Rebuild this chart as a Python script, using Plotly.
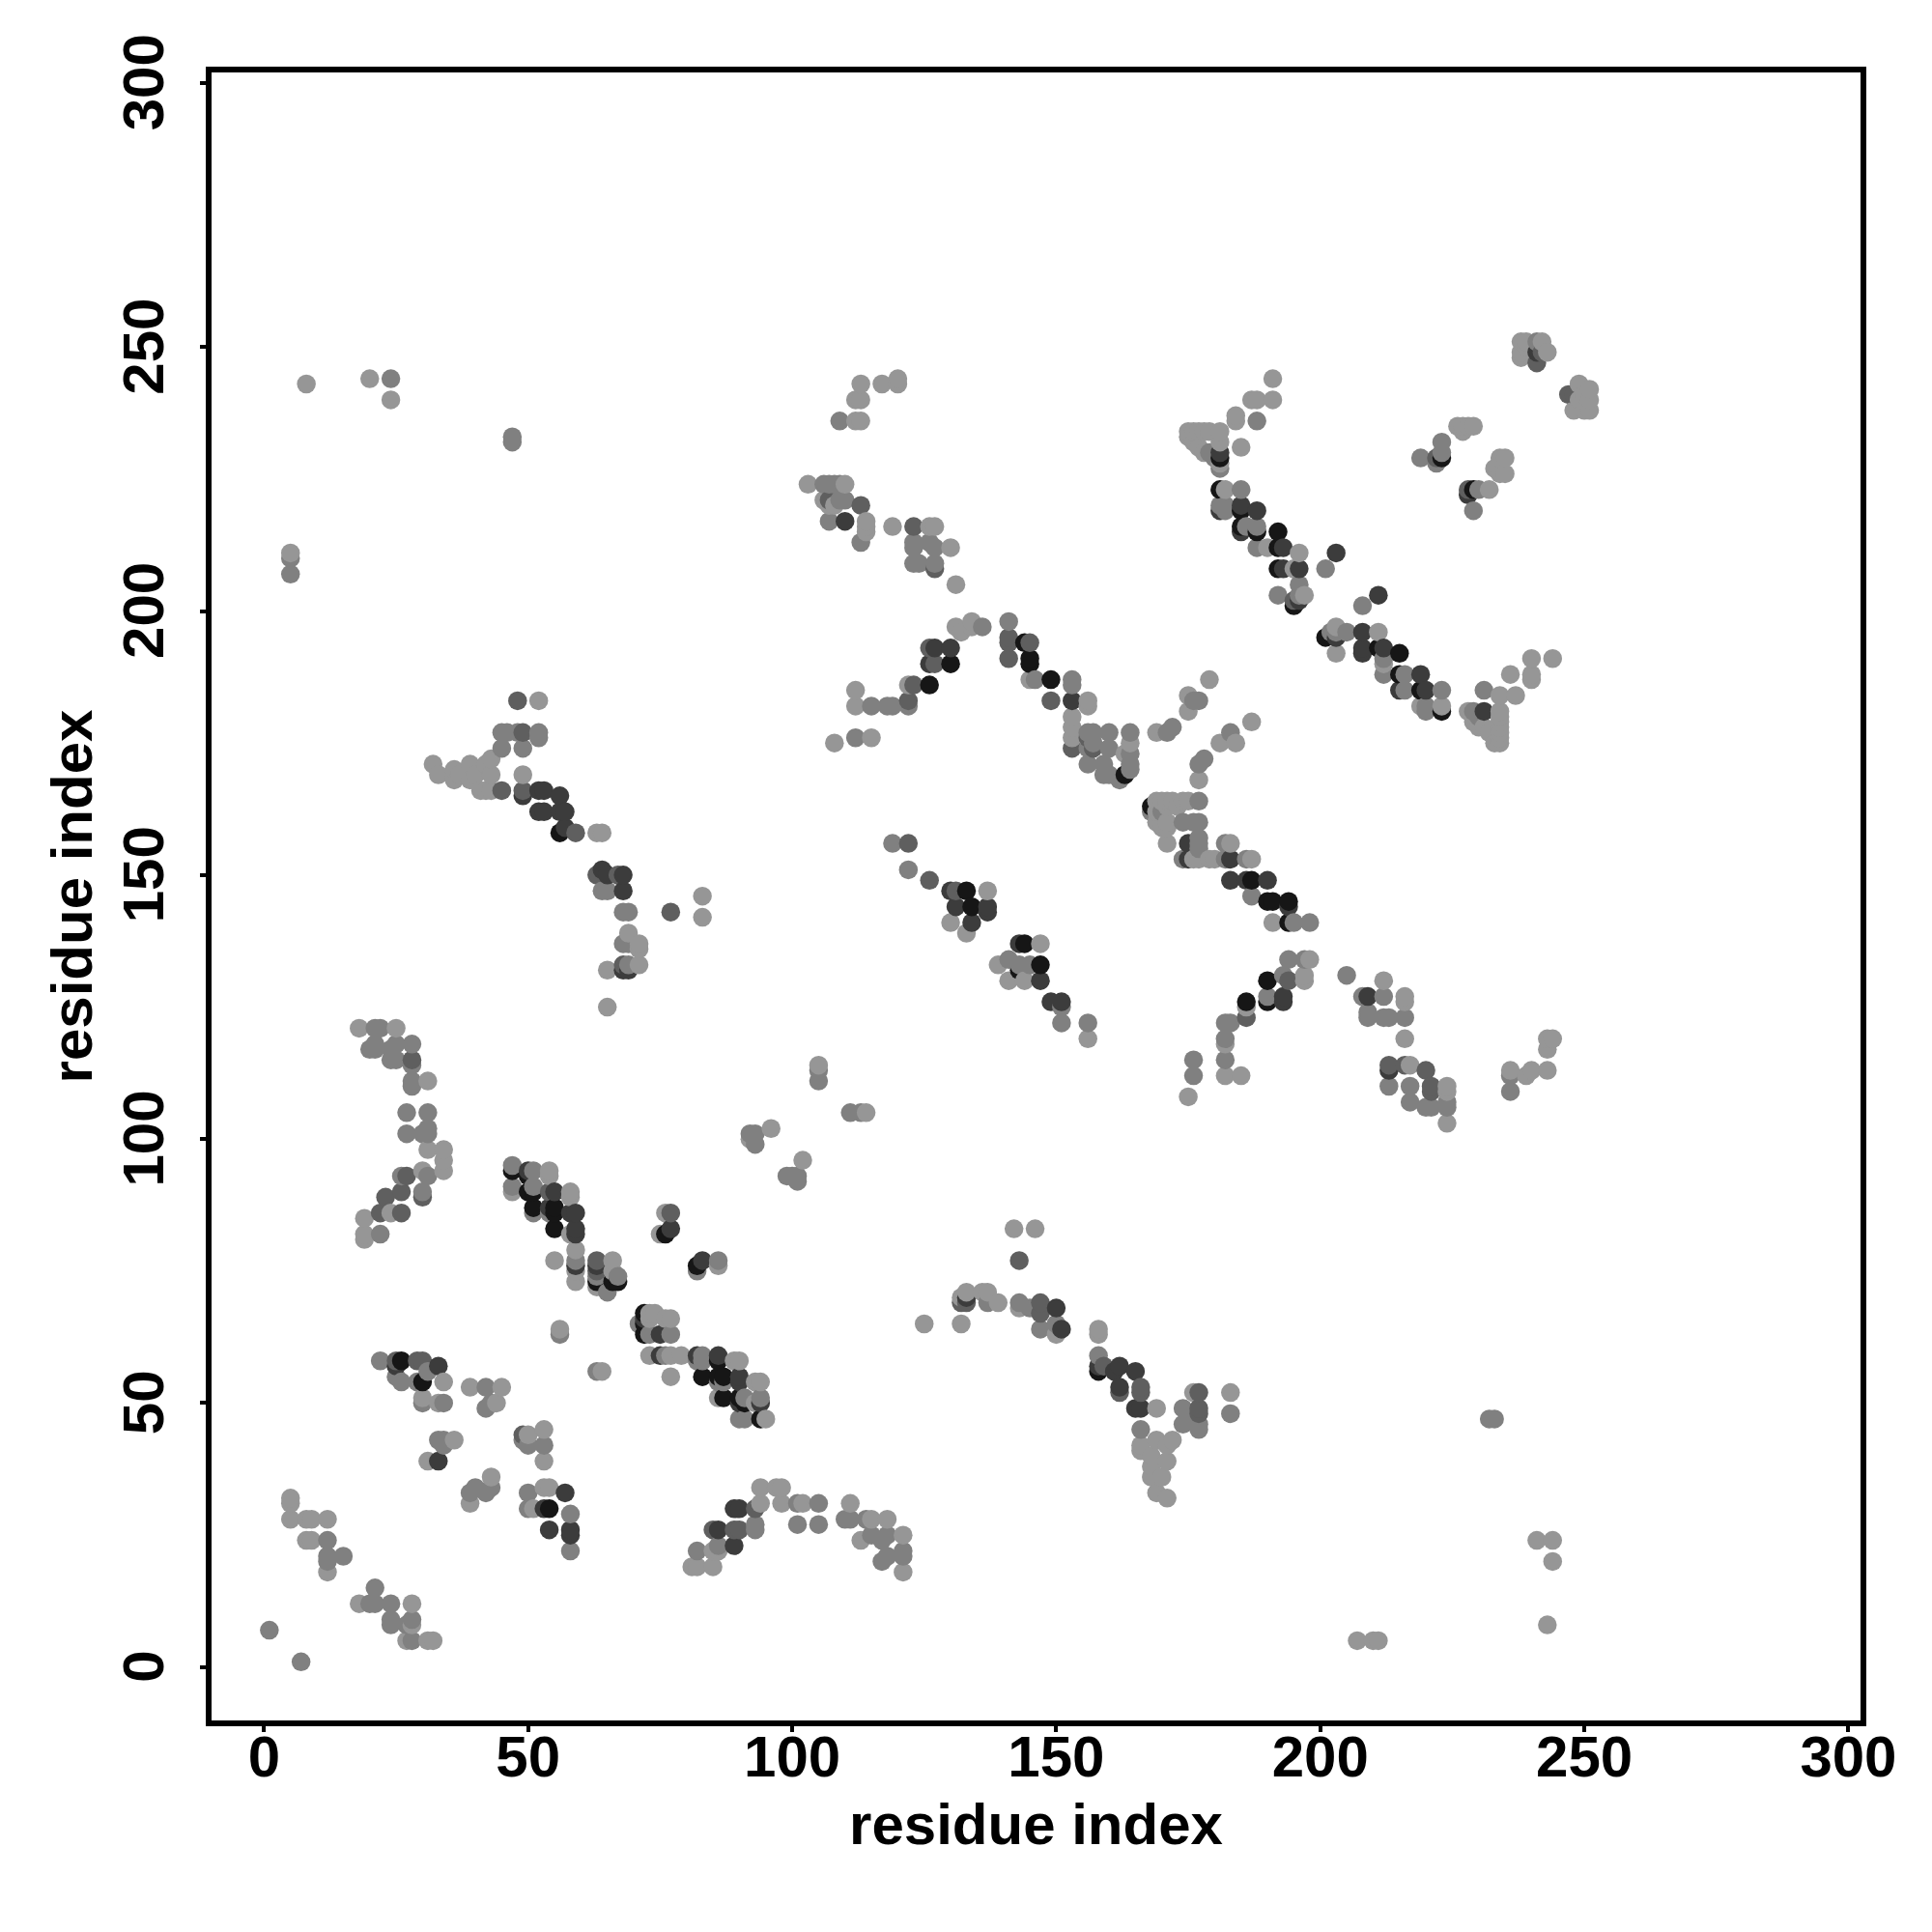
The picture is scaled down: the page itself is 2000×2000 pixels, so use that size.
import plotly.graph_objects as go

# contact pairs (residue i, residue j) grouped by grey level
grey_150 = [(8,243),(20,244),(24,240),(113,243),(117,243),(120,244),(120,243),(112,240),(113,240),(112,236),(113,236),
 (103,224),(110,224),(106,221),(107,220),(108,220),(114,217),(114,216),(114,215),(119,216),(127,216),(126,216),(130,212),(131,205),
 (5,211),(52,183),(32,171),(33,169),(36,170),(36,168),(37,169),(39,171),(40,169),(39,168),(41,166),(42,166),(43,169),(43,166),(49,169),(42,171),(43,172),
 (63,158),(64,158),(69,139),(71,137),(71,136),(71,133),(65,132),(83,146),(83,142),(65,125),
 (175,234),(176,234),(177,234),(175,233),(176,232),(177,231),(178,230),(178,234),(179,234),(181,234),(184,237),(184,236),(185,231),(191,244),(187,240),(188,240),(191,240),
 (226,235),(227,235),(228,235),(229,235),(227,234),(234,229),(235,229),(233,227),(235,226),(234,226),(232,223),(238,251),(239,251),(238,249),(238,248),(239,250),(242,251),(243,249),
 (249,243),(250,241),(251,242),(248,238),(250,238),(251,238),(251,240),(249,240),
 (234,181),(234,180),(234,179),(234,178),(234,177),(234,176),(234,175),(233,175),(232,177),(231,178),(230,178),(229,179),(228,181),(234,184),(237,184),(236,188),(240,191),(240,188),(240,187),(244,191),
 (169,177),(175,184),(175,181),(179,187),(177,168),(184,175),(187,179),(181,175),(171,164),(172,164),(175,164),(170,159),(171,159),(175,156),(177,153),(176,153),(179,153),(171,156),(163,173),(164,175),
 (153,180),(153,178),(153,176),(156,183),(156,182),(132,196),(134,198),(134,197),(131,197),(112,185),(112,182),(108,175),(115,176),(122,186),(145,187),(147,137),(137,147),(130,141),(133,139),(139,133),(141,130),(144,130),
 (5,32),(5,31),(5,28),(8,28),(9,28),(12,28),(8,24),(9,24),(12,18),(18,12),(28,12),(27,5),(31,5),(32,5),(28,8),
 (18,121),(25,121),(31,111),(34,98),(34,96),(34,94),(31,98),(30,94),(19,85),(19,82),(19,81),(24,86),
 (54,94),(54,93),(58,90),(59,79),(55,77),(59,73),(66,77),(66,75),(73,67),(76,66),(77,66),(77,63),(73,59),(75,59),(77,59),(79,59),(77,55),(56,64),(56,63),(63,56),(64,56),(93,50),(93,54),(94,54),
 (34,54),(33,50),(30,51),(39,53),(45,53),(44,50),(31,39),(36,43),(53,45),(50,44),(53,39),(43,36),(54,34),(53,34),(51,30),(39,31),
 (81,19),(82,19),(85,19),(86,22),(85,22),(93,30),(94,31),(94,34),(97,34),(98,34),(98,31),(102,31),(111,31),(113,24),(115,28),(121,25),(121,18),(118,28),
 (96,102),(102,96),(92,100),(105,114),(114,105),(142,83),(146,83),(125,65),(132,65),(132,70),(133,71),(136,71),(137,71),(139,69),(143,68),(150,63),(158,64),(158,63),
 (169,49),(166,42),(166,41),(169,43),(172,43),(168,40),(171,42),(168,38),(171,39),(168,36),(170,36),(169,33),(171,32),(176,52),(183,52),(207,5),(210,5),(211,5),(241,24),(244,24),(244,20),(243,8),
 (175,108),(185,112),(182,112),(216,119),(217,114),(224,110),(224,109),(224,103),(236,113),(239,112),(240,113),(243,119),(244,119),(243,117),(243,113),(212,130),(216,127),(216,126),(196,211),(197,203),(156,119),(182,118)]

grey_128 = [(24,244),(47,233),(47,232),(5,210),(5,207),(109,236),(106,224),(107,224),(108,224),(109,224),(109,221),(110,221),(107,217),(113,213),(123,213),(126,213),(124,209),
 (45,177),(46,177),(48,177),(52,177),(52,176),(45,174),(49,174),(64,147),(65,147),(68,143),(69,143),(68,137),(69,137),(69,133),
 (123,216),(123,212),(127,212),(123,209),(127,209),(136,197),(112,176),(115,182),(118,182),(119,182),(122,182),(141,198),(141,191),(146,187),(153,187),(153,186),(156,177),(157,177),(160,177),(164,177),(156,174),(157,175),(160,174),(164,173),(156,171),(159,171),(159,169),(160,169),(162,168),(164,171),(164,170),
 (171,177),(172,178),(176,183),(177,183),(177,171),(178,172),(183,177),(168,162),(170,162),(174,160),(177,164),(177,160),(174,153),(177,157),(177,155),(182,156),(183,156),(182,153),(186,153),(187,146),
 (194,141),(195,141),(191,141),(119,156),(122,151),(141,134),(143,133),(145,133),(149,126),(151,122),(156,122),(186,126),(182,122),(183,122),(197,134),(198,134),(197,130),(197,131),(205,131),(208,127),(212,123),(209,123),(212,127),(209,124),
 (188,236),(179,230),(180,229),(181,232),(181,227),(182,223),(185,216),(186,216),(188,212),(190,212),(185,215),(201,208),(192,203),(196,205),(196,203),(208,201),
 (203,197),(203,196),(205,196),(203,192),(211,196),(212,191),(212,188),(219,182),(220,181),(223,182),(229,181),(230,180),(231,185),
 (219,229),(222,228),(223,232),(223,230),(229,223),(230,223),(229,219),(241,251),(12,24),(12,21),(15,21),(12,20),(21,15),(21,12),(20,12),(24,12),(24,9),(24,8),(28,9),(27,8),(28,5),(7,1),(1,7),
 (21,121),(22,121),(20,117),(21,117),(21,118),(24,117),(25,118),(28,118),(24,115),(25,115),(28,114),(28,111),(28,110),(27,105),(31,105),(27,101),(30,101),(31,102),(31,101),(31,93),(30,90),(22,82),(26,93),
 (47,95),(47,91),(47,90),(51,91),(50,90),(51,87),(59,76),(58,82),(63,73),(67,74),(65,71),(86,77),(75,82),(76,82),(72,63),(71,65),(73,63),(74,67),(75,63),(82,58),(83,58),(89,58),(90,58),(90,47),(91,47),(94,47),(95,47),(94,50),(86,54),(90,55),
 (22,58),(25,55),(26,54),(29,54),(31,56),(30,50),(34,50),(42,53),(43,50),(42,49),(33,43),(34,43),(34,42),(50,42),(49,43),(53,42),(40,34),(42,33),(43,34),(39,33),(50,33),(50,30),(58,29),(58,22),
 (82,22),(85,26),(86,23),(93,27),(93,26),(101,31),(101,27),(105,31),(105,27),(110,28),(111,28),(114,28),(115,25),(118,25),(117,24),(121,22),(121,21),(118,21),(117,20),
 (93,101),(92,101),(93,99),(99,93),(100,93),(101,93),(101,92),(105,113),(105,111),(111,105),(113,105),(147,69),(143,69),(137,69),(145,68),(147,64),(150,65),(158,59),(166,45),(174,49),(174,46),(175,48),(177,46),(177,45),(232,47),(233,47),(183,48),(176,115),(176,112),(182,115),(182,119),(209,123),(213,123),(216,123),(213,110),(217,110),(217,107),(220,106),(221,106),(224,107),(224,106),(236,112),(236,109),(151,125),(156,122)]

grey_95 = [(48,183),(49,177),(49,166),(49,165),(45,166),(59,158),(67,150),(64,151),(63,150),(77,143),(68,133),(107,221),(113,220),(113,220),(123,216),(127,208),
 (130,190),(126,193),(127,190),(123,186),(122,183),(145,194),(141,195),(141,194),(149,183),(153,183),(153,174),(156,176),(157,174),
 (181,220),(182,219),(185,223),(192,212),(192,208),(193,212),(195,202),(195,201),(213,114),(213,113),(220,113),(221,110),(221,109),(186,123),(216,114),
 (122,156),(183,149),(190,149),(194,144),(126,149),(141,191),(133,147),(131,144),(131,147),(209,127),(186,126),
 (194,134),(194,130),(28,115),(23,89),(26,86),(26,90),(27,93),(30,89),(22,86),(25,58),(29,58),(30,58),(76,59),(83,77),(82,75),
 (51,94),(54,90),(55,90),(58,86),(58,89),(77,86),(76,86),(63,77),(63,75),(59,75),(89,26),(90,26),(93,30),(85,26),(86,51),(87,51),(90,51),(91,51),(49,44),(143,77),(133,69),(132,69),(147,67),(159,57),(147,69),
 (166,53),(166,52),(162,52),(177,52),(177,49),(177,48),(123,216),(228,223),(222,229),(241,247),(242,249),(247,241),(248,241)]

grey_60 = [(47,94),(50,94),(50,90),(54,87),(58,86),(59,86),(59,83),(59,82),(77,83),(76,82),(82,76),(83,77),(72,66),(86,58),(86,59),(83,55),(90,54),(91,50),(94,51),
 (26,58),(25,57),(33,57),(30,54),(33,39),(53,30),(57,33),(58,26),(58,25),(54,26),(89,23),(86,26),(89,30),(90,30),
 (150,68),(151,64),(133,70),(161,56),(162,57),(165,56),(162,53),(166,49),(165,49),(158,57),
 (49,165),(52,166),(53,166),(56,165),(52,162),(53,162),(56,162),(57,162),(56,158),(57,159),(64,151),(65,150),(68,147),(68,150),(69,132),(68,132),
 (110,217),(126,190),(127,193),(130,193),(149,187),(143,137),(144,137),(147,130),(151,126),(153,183),(130,147),(131,144),(134,141),(137,144),(137,143),(149,126),
 (181,223),(181,219),(185,220),(188,219),(188,216),(193,208),(196,208),(203,211),(211,203),(203,195),(208,196),(208,193),(212,193),(215,188),(216,188),(219,188),(220,185),(223,181),(213,113),(193,127),(193,126),(190,127),(181,230),(181,229),(231,181),(228,222),(241,249),(183,153),(190,145)]

grey_22 = [(50,93),(51,87),(55,87),(55,83),(54,86),(72,65),(72,63),(82,76),(83,55),(87,55),(86,58),(87,51),(91,50),(54,30),(30,54),(26,58),(158,56),
 (56,158),(126,186),(130,190),(145,191),(145,190),(144,194),(149,187),(133,147),(134,144),(147,133),(143,132),(144,137),(163,169),(187,149),(190,145),(194,145),(192,215),(192,212),(192,208),(215,192),(215,185),(212,193),(208,193),(201,195),(216,185),(220,185),(190,130),(186,126),(181,223),(185,219),(188,215)]

# second reading of the densest stretches; these override the first reading
fix_150 = [(47,90),(54,94),(54,93),(58,90),(58,89),(59,79),(59,75),(59,73),(55,77),(63,72),(66,77),(76,86),(75,82),(86,76),(56,64),(64,56),(73,59),(79,59),(77,55),(89,58),(90,58),(93,54),(94,54),(93,50),(95,47),(86,51),(74,67),(76,66),(77,66),(58,82),
 (174,164),(173,163),(171,163),(180,153),(183,156),(187,153),(191,141),(198,134),(197,131),(197,130),(186,125),(196,211),(190,212),(197,203),(212,190),(203,197),(203,192),(182,223),(211,196),(223,182),(219,182),(232,223),(195,208),(181,228),(181,232),
 (169,164),(170,164),(169,162),(169,160),(171,160),(73,66)]
fix_128 = [(47,95),(47,91),(51,91),(51,94),(86,77),(82,75),(63,74),(67,74),(65,71),(56,63),(63,56),(71,65),(73,63),(77,63),(76,59),(83,59),(83,58),(87,54),(90,47),(91,47),(94,51),(91,51),(59,77),(54,86),(51,86),(177,164),(168,162),(174,160),(177,157),(177,156),(182,153),(186,153),(187,146),(195,141),(198,141),(194,134),(193,131),(190,127),(205,131),(208,127),(185,223),(182,220),(181,220),(182,219),(186,216),(188,216),(188,212),(196,205),(192,203),(205,196),(212,188),(216,188),(216,185),(220,182),(223,185),(229,219),(219,229),(222,228),(230,223),(201,208),(208,201),(202,196),(176,160)]
fix_60 = [(50,94),(55,90),(54,87),(58,86),(59,86),(59,83),(59,82),(59,76),(63,76),(77,83),(83,77),(72,66),(75,63),(82,59),(86,59),(75,59),(90,55),(90,54),(90,50),(94,50),(183,153),(183,149),(186,149),(190,149),(175,156),(175,153),(194,144),(193,127),(193,126),(209,127),(185,220),(188,219),(185,215),(193,212),(193,208),(196,208),(196,202),(203,211),(211,203),(203,195),(208,196),(208,193),(208,192),(212,193),(215,185),(219,188),(220,185),(181,230),(228,222)]
fix_22 = [(47,94),(50,90),(51,90),(51,87),(55,87),(55,86),(55,83),(63,73),(66,73),(67,73),(76,82),(82,76),(72,67),(72,63),(83,55),(87,55),(86,55),(87,51),(90,51),(94,47),(168,163),(187,149),(190,145),(191,145),(194,145),(194,141),(190,130),(186,126),(190,126),(181,223),(185,216),(188,215),(192,215),(192,212),(192,208),(195,201),(201,195),(211,193),(215,192),(215,188),(219,185),(223,181),(229,223),(181,229),(223,229)]

READINGS = [(150, grey_150), (128, grey_128), (95, grey_95), (60, grey_60), (22, grey_22),
            (150, fix_150), (128, fix_128), (60, fix_60), (22, fix_22)]

tick_values = [0, 50, 100, 150, 200, 250, 300]
tick_labels = ["0", "50", "100", "150", "200", "250", "300"]
axis_label = "residue index"
FONT = "Liberation Sans"

seen = {}
for level, pts in READINGS:
    for p in pts:
        seen[p] = level            # later reading wins
ordered = sorted(seen)             # drawn by residue i then j, later on top
xs = [p[0] for p in ordered]
ys = [p[1] for p in ordered]
cols = [f"rgb({seen[p]},{seen[p]},{seen[p]})" for p in ordered]

fig = go.Figure(go.Scatter(x=xs, y=ys, mode="markers",
                           marker=dict(size=19.5, color=cols, line=dict(width=0))))

W, H = 2000, 2000
L, R, T, B = 219.3, 1925.7, 75, 1781   # inner plot frame in pixels
OFFSET = 8                             # page margin of the browser
font_bold = dict(family=FONT, size=60, color="black", weight="bold")
axis_common = dict(tickmode="array", tickvals=tick_values, showgrid=False, zeroline=False,
                   showline=True, mirror=True, linecolor="black", linewidth=6,
                   ticks="outside", ticklen=6, tickwidth=3.5, tickcolor="black",
                   tickfont=font_bold)
fig.update_xaxes(range=[-9.95, 302.3], automargin=False, ticklabelstandoff=-26, ticktext=tick_labels,
                 title=dict(text=axis_label, standoff=18, font=font_bold), **axis_common)
# a trailing no-break space centres the rotated digits on their ticks
fig.update_yaxes(range=[-10.1, 302.0], automargin=False, tickangle=-90, ticklabelstandoff=14,
                 ticktext=[t + "\u00a0" for t in tick_labels],
                 title=dict(text=axis_label, standoff=2, font=font_bold), **axis_common)
fig.update_layout(width=W, height=H, autosize=False, showlegend=False,
                  plot_bgcolor="white", paper_bgcolor="white",
                  margin=dict(l=L - OFFSET, r=W - R + OFFSET, t=T - OFFSET, b=H - B + OFFSET, pad=0))
fig.write_html("out.html")
